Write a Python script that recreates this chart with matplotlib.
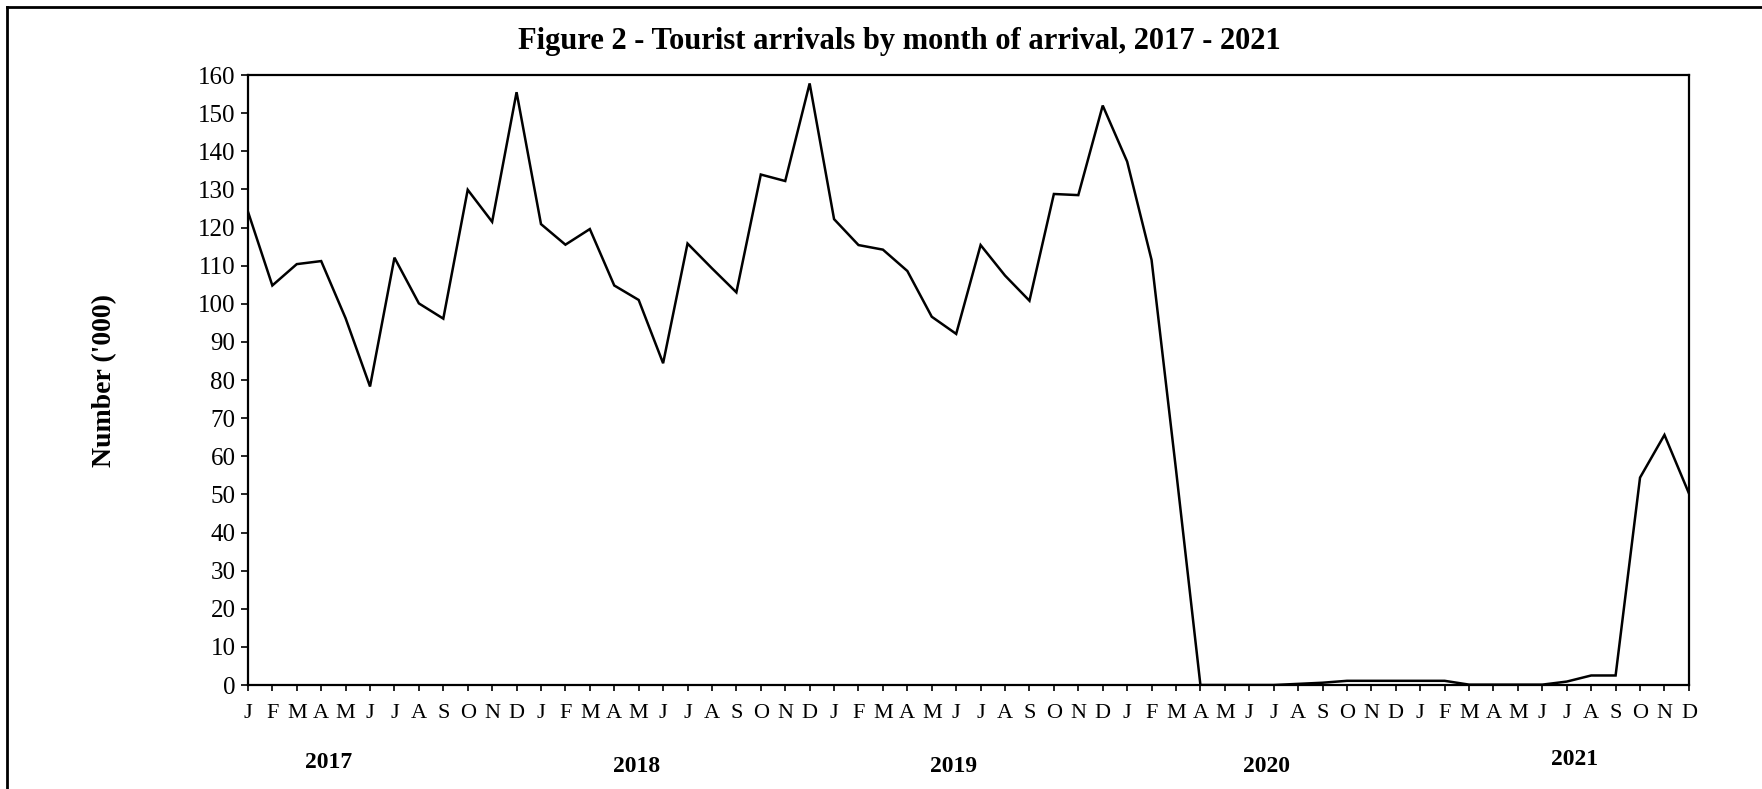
import matplotlib
matplotlib.use("Agg")
import matplotlib.pyplot as plt
from matplotlib.lines import Line2D
import matplotlib.transforms as mtransforms

# monthly tourist arrivals ('000), Jan 2017 .. Dec 2021
arrivals_2017 = [124.2, 104.8, 110.4, 111.2, 96.2, 78.3, 112.1, 100.1, 96.1, 129.9, 121.5, 155.5]
arrivals_2018 = [120.9, 115.5, 119.6, 104.8, 101.0, 84.4, 115.8, 109.3, 103.0, 133.9, 132.2, 157.8]
arrivals_2019 = [122.2, 115.4, 114.2, 108.6, 96.6, 92.1, 115.4, 107.4, 100.8, 128.8, 128.5, 152.0]
arrivals_2020 = [137.3, 111.5, 56.5, 0.0, 0.0, 0.0, 0.0, 0.3, 0.6, 1.1, 1.1, 1.1]
arrivals_2021 = [1.1, 1.1, 0.1, 0.1, 0.1, 0.1, 0.9, 2.5, 2.5, 54.4, 65.6, 50.3]

month_letters = ["J", "F", "M", "A", "M", "J", "J", "A", "S", "O", "N", "D"]
years = ["2017", "2018", "2019", "2020", "2021"]

values = arrivals_2017 + arrivals_2018 + arrivals_2019 + arrivals_2020 + arrivals_2021
months = list(range(len(values)))
tick_labels = month_letters * len(years)

serif = ["Liberation Serif", "DejaVu Serif"]

fig = plt.figure(figsize=(17.62, 7.89), dpi=100)
ax = fig.add_axes([0.1407, 0.1318, 0.8178, 0.7731])

ax.plot(months, values, color="black", linewidth=1.8, solid_joinstyle="miter")

ax.set_xlim(0, len(values) - 1)
ax.set_ylim(0, 160)
ax.set_yticks(range(0, 161, 10))
ax.set_xticks(months)
ax.set_xticklabels(tick_labels, fontfamily=serif, fontsize=16)
for lab in ax.get_yticklabels():
    lab.set_fontfamily(serif)
    lab.set_fontsize(18)

ax.tick_params(axis="y", direction="out", length=5, width=1.2, pad=4)
ax.tick_params(axis="x", direction="out", length=4, width=1.2, pad=10)
for sp in ax.spines.values():
    sp.set_linewidth(1.6)

ax.set_ylabel("Number ('000)", fontfamily=serif, fontweight="bold", fontsize=20, labelpad=58)

# year labels under the month letters (x in data, y in figure)
year_x = [3.3, 15.9, 28.9, 41.7, 54.3]
year_y = [0.034, 0.029, 0.029, 0.029, 0.037]
trans = mtransforms.blended_transform_factory(ax.transData, fig.transFigure)
for yr, xx, yy in zip(years, year_x, year_y):
    ax.text(xx, yy, yr, transform=trans, ha="center", va="center",
            fontfamily=serif, fontweight="bold", fontsize=17, clip_on=False)

fig.text(0.5102, 0.948, "Figure 2 - Tourist arrivals by month of arrival, 2017 - 2021",
         ha="center", va="center", fontfamily=serif, fontweight="bold", fontsize=22)

# outer frame (left and top edges visible)
fig.add_artist(Line2D([0.0042, 0.0042], [0.0, 0.991], transform=fig.transFigure,
                      color="black", linewidth=2.0))
fig.add_artist(Line2D([0.0042, 1.0], [0.991, 0.991], transform=fig.transFigure,
                      color="black", linewidth=2.0))

fig.savefig("out.png", dpi=100)
